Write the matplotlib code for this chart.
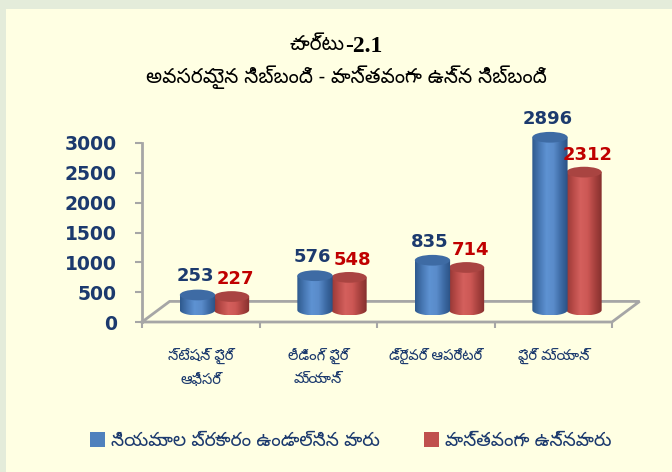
import numpy as np
import matplotlib
matplotlib.use("Agg")
import matplotlib.pyplot as plt
from matplotlib.patches import Polygon, Ellipse, Rectangle, Patch
from matplotlib.colors import LinearSegmentedColormap

# data
categories = ['స్టేషన్ ఫైర్\nఆఫీసర్', 'లీడింగ్ ఫైర్\nమ్యాన్', 'డ్రైవర్ ఆపరేటర్', 'ఫైర్ మ్యాన్']
required = [253, 576, 835, 2896]
actual = [227, 548, 714, 2312]
series_names = ['నియమాల ప్రకారం ఉండాల్సిన వారు', 'వాస్తవంగా ఉన్నవారు']
yticks = [0, 500, 1000, 1500, 2000, 2500, 3000]
title_word, title_num = 'చార్టు', '-2.1'
subtitle = 'అవసరమైన సిబ్బంది - వాస్తవంగా ఉన్న సిబ్బంది'

TEL = ['Noto Sans Telugu', 'DejaVu Sans']
NAVY = '#1C3A6E'
GREY = '#A6A6A6'

# fake 3d geometry (data units)
DX, DY = 0.12, 200        # bar depth shift
FDX, FDY = 0.235, 345     # floor depth
BAR_W = 0.30
ELL_H = 180

blue_cm = LinearSegmentedColormap.from_list('b', ['#2F5A8E', '#4777B3', '#5E92D2', '#5A8CCB', '#3E6CA6', '#2A5184'])
red_cm = LinearSegmentedColormap.from_list('r', ['#963835', '#B94B48', '#D4605D', '#CD5855', '#A9423F', '#86302E'])

fig = plt.figure(figsize=(6.72, 4.72), dpi=100, facecolor='#E4ECDA')
fig.patches.append(Rectangle((6 / 672, 0), 1, 1 - 9 / 472, transform=fig.transFigure,
                             facecolor='#FFFFE3', edgecolor='none', zorder=-5))

# axes: x -0.5 -> 142px, y 0 -> 322px, 3000 -> 143px
xmax, ymax = 3.8, 3400
ppx = 117.5
ppy = 179 / 3000
left = 142 / 672
width = (4.3 * ppx) / 672
bottom = (472 - 322) / 472
height = (ymax * ppy) / 472
ax = fig.add_axes([left, bottom, width, height])
ax.patch.set_visible(False)


def cylinder(xc, h, cmap, top_col, z):
    x0, x1 = xc - BAR_W / 2, xc + BAR_W / 2
    y0, y1 = DY, DY + h
    t = np.linspace(np.pi, 2 * np.pi, 50)
    verts = [(x0, y1)] + list(zip(xc + BAR_W / 2 * np.cos(t), y0 + ELL_H / 2 * np.sin(t))) + [(x1, y1)]
    body = Polygon(verts, closed=True, facecolor='none', edgecolor='none')
    ax.add_patch(body)
    grad = np.linspace(0, 1, 64)[None, :]
    im = ax.imshow(grad, cmap=cmap, extent=(x0, x1, y0 - ELL_H / 2, y1), aspect='auto',
                   origin='lower', zorder=z, interpolation='bilinear')
    im.set_clip_path(body)
    ax.add_patch(Ellipse((xc, y1), BAR_W, ELL_H, facecolor=top_col, edgecolor='none', zorder=z + 0.1))


xs = np.arange(len(categories))
for i in xs:
    xr = i + DX + 0.142
    xb = i + DX - 0.148
    cylinder(xr, actual[i], red_cm, '#A94441', 3)
    cylinder(xb, required[i], blue_cm, '#3E6BA4', 4)
    ax.text(xb - 0.02, DY + required[i] + 310, str(required[i]), ha='center', va='center',
            fontsize=13, fontweight='bold', color=NAVY, zorder=6)
    ax.text(xr + 0.03, DY + actual[i] + 290, str(actual[i]), ha='center', va='center',
            fontsize=13, fontweight='bold', color='#C00000', zorder=6)

# floor
ax.plot([-0.5, 3.5, 3.5 + FDX, -0.5 + FDX, -0.5], [0, 0, FDY, FDY, 0],
        color=GREY, lw=2, zorder=1, clip_on=False, solid_joinstyle='miter')

ax.set_xlim(-0.5, xmax)
ax.set_ylim(0, ymax)

for s in ['top', 'right', 'bottom']:
    ax.spines[s].set_visible(False)
ax.spines['left'].set_bounds(0, 3000)
ax.spines['left'].set_color(GREY)
ax.spines['left'].set_linewidth(2)

ax.set_yticks(yticks)
ax.set_yticklabels([str(v) for v in yticks], fontsize=13.5, fontweight='bold', color=NAVY)
ax.tick_params(axis='y', length=5, width=1.5, color=GREY, pad=13)

ax.set_xticks(xs)
ax.set_xticklabels(categories, family=TEL, fontsize=10.5, color=NAVY, linespacing=1.8)
ax.set_xticks([-0.5, 0.5, 1.5, 2.5, 3.5], minor=True)
ax.tick_params(axis='x', which='major', length=0, pad=19)
ax.tick_params(axis='x', which='minor', length=4.5, width=1.5, color=GREY)

fig.text(345 / 672, 1 - 45 / 472, title_word, ha='right', va='center', family=TEL,
         fontsize=14.5, color='black')
fig.text(345 / 672, 1 - 46 / 472, title_num, ha='left', va='center', family='Liberation Serif',
         fontsize=17, fontweight='bold', color='black')
fig.text(0.515, 1 - 77 / 472, subtitle, ha='center', va='center', family=TEL,
         fontsize=14.5, color='black')

handles = [Patch(facecolor='#4F81BD', edgecolor='none'), Patch(facecolor='#C0504D', edgecolor='none')]
leg = fig.legend(handles, series_names, loc='center', bbox_to_anchor=(0.522, 1 - 441 / 472),
                 ncol=2, frameon=False, handlelength=0.8, handleheight=0.8, handletextpad=0.3,
                 columnspacing=2.4, prop={'family': TEL, 'size': 13.5})
for txt in leg.get_texts():
    txt.set_color(NAVY)

fig.savefig('out.png', dpi=100, facecolor=fig.get_facecolor())
